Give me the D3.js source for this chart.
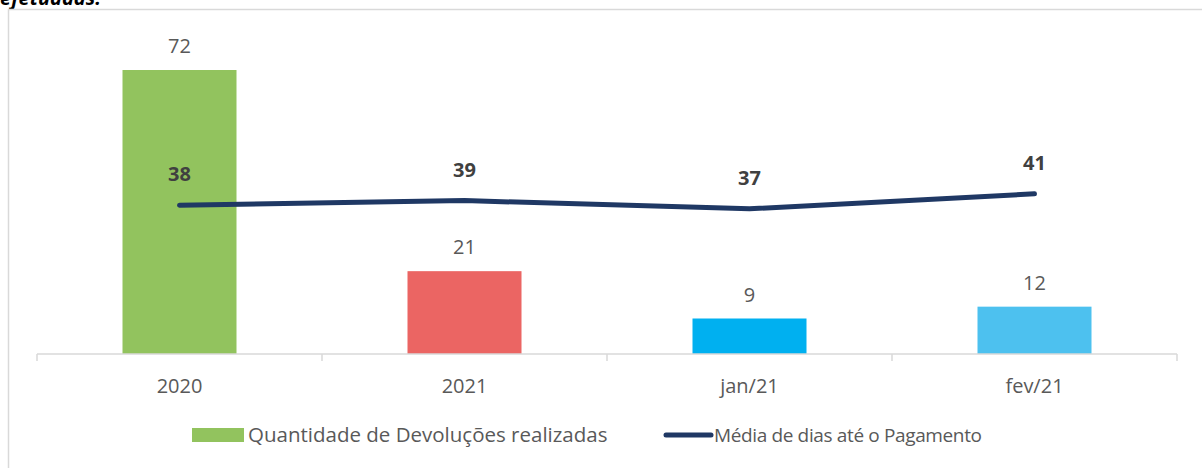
<!DOCTYPE html>
<meta charset="utf-8">
<html>
<head>
<script src="https://cdn.jsdelivr.net/npm/d3@7"></script>
<style>
body { margin:0; background:#fff; }
text { font-family:'Open Sans', sans-serif; fill:#595959; }
.title { font-weight:bold; font-style:italic; fill:#000; font-size:20px; }
.barlbl, .axis text { font-size:20px; }
.linelbl { font-size:20px; font-weight:bold; fill:#404040; }
.leg { font-size:19px; }
</style>
</head>
<body>
<div id="chart"></div>
<script>

// data
var categories = ["2020", "2021", "jan/21", "fev/21"];
var devolucoes = [72, 21, 9, 12];
var mediaDias = [37.7, 38.9, 36.8, 40.6];
var mediaLabels = ["38", "39", "37", "41"];
var barColors = ["#92c35e", "#eb6563", "#00b0f0", "#4dc1ef"];

var W = 1202, H = 468;

var svg = d3.select("#chart")
    .append("svg")
    .attr("width", W)
    .attr("height", H);

// title, partly cut off at the top as in the source
svg.append("text")
    .attr("class", "title")
    .attr("x", 0)
    .attr("y", 5)
    .text("efetuadas.");

// chart frame (runs off right/bottom)
svg.append("path")
    .attr("d", "M8.5," + H + "V9.5H" + W)
    .attr("fill", "none")
    .attr("stroke", "#d9d9d9")
    .attr("stroke-width", 1.5);

var x = d3.scaleBand()
    .domain(categories)
    .range([37, 1177]);

var y = d3.scaleLinear()
    .domain([0, 72])
    .range([354, 70]);

var barW = x.bandwidth() * 0.4;

// bars
svg.selectAll("rect.bar")
    .data(devolucoes)
    .enter()
    .append("rect")
    .attr("class", "bar")
    .attr("x", function(d, i) { return x(categories[i]) + x.bandwidth() / 2 - barW / 2; })
    .attr("y", function(d) { return y(d); })
    .attr("width", barW)
    .attr("height", function(d) { return y(0) - y(d); })
    .attr("fill", function(d, i) { return barColors[i]; });

svg.selectAll("text.barlbl")
    .data(devolucoes)
    .enter()
    .append("text")
    .attr("class", "barlbl")
    .attr("text-anchor", "middle")
    .attr("x", function(d, i) { return x(categories[i]) + x.bandwidth() / 2; })
    .attr("y", function(d) { return y(d) - 17; })
    .text(function(d) { return d; });

// x axis with ticks between categories
var axis = svg.append("g").attr("class", "axis");
axis.append("line")
    .attr("x1", x.range()[0]).attr("x2", x.range()[1])
    .attr("y1", y(0)).attr("y2", y(0))
    .attr("stroke", "#d9d9d9").attr("stroke-width", 1.5);
var bounds = categories.map(function(c) { return x(c); }).concat([x.range()[1]]);
axis.selectAll("line.tick")
    .data(bounds)
    .enter()
    .append("line")
    .attr("x1", function(d) { return d; }).attr("x2", function(d) { return d; })
    .attr("y1", y(0)).attr("y2", y(0) + 7)
    .attr("stroke", "#d9d9d9").attr("stroke-width", 1.5);
axis.selectAll("text")
    .data(categories)
    .enter()
    .append("text")
    .attr("text-anchor", "middle")
    .attr("x", function(d) { return x(d) + x.bandwidth() / 2; })
    .attr("y", 393)
    .text(function(d) { return d; });

// line
var line = d3.line()
    .x(function(d, i) { return x(categories[i]) + x.bandwidth() / 2; })
    .y(function(d) { return y(d); });

svg.append("path")
    .datum(mediaDias)
    .attr("d", line)
    .attr("fill", "none")
    .attr("stroke", "#1f3864")
    .attr("stroke-width", 5)
    .attr("stroke-linecap", "round")
    .attr("stroke-linejoin", "round");

svg.selectAll("text.linelbl")
    .data(mediaDias)
    .enter()
    .append("text")
    .attr("class", "linelbl")
    .attr("text-anchor", "middle")
    .attr("x", function(d, i) { return x(categories[i]) + x.bandwidth() / 2; })
    .attr("y", function(d) { return y(d) - 24; })
    .text(function(d, i) { return mediaLabels[i]; });

// legend
var leg = svg.append("g");
leg.append("rect")
    .attr("x", 192).attr("y", 428)
    .attr("width", 52).attr("height", 14)
    .attr("fill", barColors[0]);
leg.append("text")
    .attr("class", "leg")
    .attr("x", 248).attr("y", 442)
    .style("font-size", "20.5px")
    .text("Quantidade de Devoluções realizadas");
leg.append("line")
    .attr("x1", 666).attr("x2", 711)
    .attr("y1", 435).attr("y2", 435)
    .attr("stroke", "#1f3864")
    .attr("stroke-width", 5)
    .attr("stroke-linecap", "round");
leg.append("text")
    .attr("class", "leg")
    .attr("x", 714).attr("y", 442)
    .attr("textLength", 268)
    .text("Média de dias até o Pagamento");

</script>
</body>
</html>
